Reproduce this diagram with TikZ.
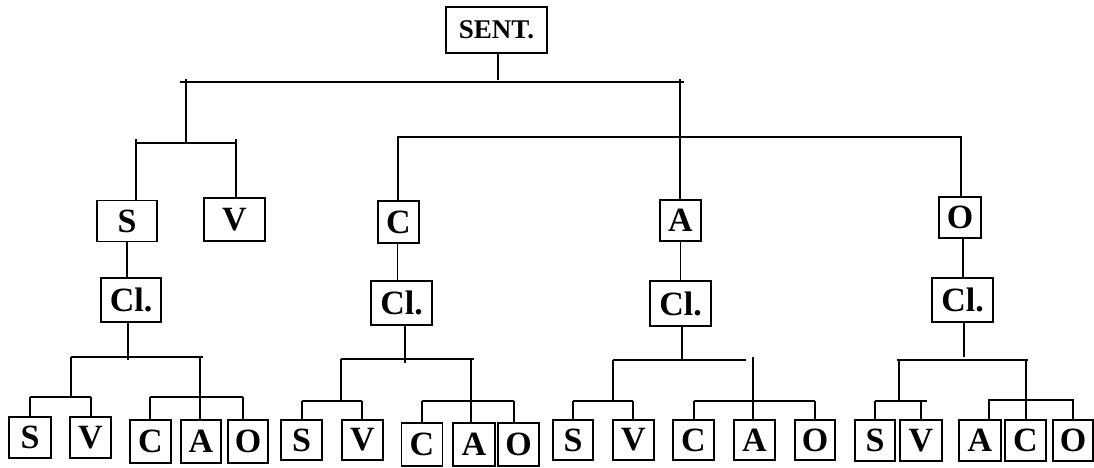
\documentclass[tikz,border=0pt]{standalone}
\usepackage{fontspec}
\setmainfont{Liberation Serif}
\tikzset{
  ln/.style={line width=1.9pt},
  bx/.style={draw, line width=1.8pt, inner sep=0pt, font=\fontsize{34}{34}\selectfont\bfseries},
}
\newcommand\bxnode[6]{\node[bx, minimum width=#4pt, minimum height=#5pt] (#1) at (#2,#3) {#6};}
\begin{document}
\begin{tikzpicture}[x=1pt,y=-1pt]
\useasboundingbox (0,0) rectangle (1094,468);
% top
\node[bx, minimum width=101pt, minimum height=46pt, font=\fontsize{27}{27}\selectfont\bfseries] (sent) at (496.5,30) {SENT.};
% level 1
\bxnode{S1}{127}{221}{60}{41}{S}
\bxnode{V1}{234.5}{219.5}{61}{43}{V}
\bxnode{C1}{398.5}{222}{41}{42}{C}
\bxnode{A1}{680.5}{220.5}{41}{41}{A}
\bxnode{O1}{960}{217.5}{42}{41}{O}
% clause boxes
\bxnode{ClS}{131}{300}{60}{44}{Cl.}
\bxnode{ClC}{401.5}{303}{61}{44}{Cl.}
\bxnode{ClA}{680.5}{303.5}{61}{45}{Cl.}
\bxnode{ClO}{962.5}{300}{61}{44}{Cl.}
% group 1 leaves
\bxnode{g1S}{30}{437.5}{42}{41}{S}
\bxnode{g1V}{90.5}{437.5}{41}{41}{V}
\bxnode{g1C}{150.5}{441.5}{41}{43}{C}
\bxnode{g1A}{201}{441.5}{40}{43}{A}
\bxnode{g1O}{248}{441.5}{40}{43}{O}
% group 2 leaves
\bxnode{g2S}{301.5}{440}{41}{40}{S}
\bxnode{g2V}{362.5}{440}{41}{40}{V}
\bxnode{g2C}{422}{444.5}{41}{43}{C}
\bxnode{g2A}{474}{444.5}{42}{43}{A}
\bxnode{g2O}{518.5}{444.5}{41}{43}{O}
% group 3 leaves
\bxnode{g3S}{573}{440}{40}{40}{S}
\bxnode{g3V}{633.5}{440}{41}{40}{V}
\bxnode{g3C}{693.5}{440}{41}{40}{C}
\bxnode{g3A}{754.5}{440}{41}{40}{A}
\bxnode{g3O}{815}{440}{40}{40}{O}
% group 4 leaves
\bxnode{g4S}{875}{440.5}{40}{41}{S}
\bxnode{g4V}{921}{440.5}{42}{41}{V}
\bxnode{g4A}{980}{440.5}{42}{41}{A}
\bxnode{g4C}{1025.5}{440.5}{41}{41}{C}
\bxnode{g4O}{1073}{440.5}{40}{41}{O}

% ---------- top connectors
\coordinate (tbL) at (180,82);
\coordinate (tbR) at (684,82);
\coordinate (j1) at (186,82);
\coordinate (j2) at (680,82);
\coordinate (st) at (498,80);
\draw[ln] (st |- sent.south) -- (st);
\draw[ln] (tbL) -- (tbR);
\coordinate (sv1L) at (136,143);
\coordinate (sv1R) at (237,143);
\draw[ln] ([yshift=3pt]j1) -- (j1 |- sv1L);
\draw[ln] (sv1L) -- (sv1R);
\draw[ln] ([yshift=4pt]sv1L) -- (sv1L |- S1.north);
\draw[ln] ([yshift=4pt,xshift=-1pt]sv1R) -- ([xshift=-1pt]sv1R |- V1.north);
\draw[ln] ([yshift=3pt]j2) -- (j2 |- A1.north);
\coordinate (cbL) at (397,137);
\coordinate (cbR) at (962,137);
\draw[ln] (cbL) -- (cbR);
\draw[ln] ([xshift=1pt]cbL) -- ([xshift=1pt]cbL |- C1.north);
\draw[ln] ([xshift=-1pt]cbR) -- ([xshift=-1pt]cbR |- O1.north);
% level 1 to clause
\draw[ln] (S1.south) -- (S1.south |- ClS.north);
\draw[ln] ([xshift=-1pt]C1.south) -- ([xshift=-1pt]C1.south |- ClC.north);
\draw[ln] (A1.south) -- (A1.south |- ClA.north);
\draw[ln] ([xshift=3pt]O1.south) -- ([xshift=3pt]O1.south |- ClO.north);

% ---------- group 1
\coordinate (g1m) at (128,357);
\coordinate (g1L) at (71,357);
\coordinate (g1R) at (203,357);
\coordinate (g1b) at (200,357);
\coordinate (g1svL) at (30,397);
\coordinate (g1svR) at (91,397);
\coordinate (g1cL) at (150,397);
\coordinate (g1cR) at (243,397);
\draw[ln] (g1m |- ClS.south) -- ([yshift=-3pt]g1m);
\draw[ln] (g1L) -- (g1R);
\draw[ln] (g1L) -- (g1L |- g1svL);
\draw[ln] (g1svL) -- (g1svR);
\draw[ln] (g1svL) -- (g1svL |- g1S.north);
\draw[ln] (g1svR) -- (g1svR |- g1V.north);
\draw[ln] (g1b) -- (g1b |- g1A.north);
\draw[ln] (g1cL) -- (g1cR);
\draw[ln] (g1cL) -- (g1cL |- g1C.north);
\draw[ln] (g1cR) -- (g1cR |- g1O.north);

% ---------- group 2
\coordinate (g2m) at (405,359);
\coordinate (g2L) at (341,359);
\coordinate (g2R) at (474,359);
\coordinate (g2b) at (471,359);
\coordinate (g2svL) at (302,401);
\coordinate (g2svR) at (362,401);
\coordinate (g2cL) at (422,401);
\coordinate (g2cR) at (514,401);
\draw[ln] (g2m |- ClC.south) -- ([yshift=-4pt]g2m);
\draw[ln] (g2L) -- (g2R);
\draw[ln] (g2L) -- (g2L |- g2svL);
\draw[ln] (g2svL) -- (g2svR);
\draw[ln] (g2svL) -- (g2svL |- g2S.north);
\draw[ln] (g2svR) -- (g2svR |- g2V.north);
\draw[ln] (g2b) -- (g2b |- g2A.north);
\draw[ln] (g2cL) -- (g2cR);
\draw[ln] (g2cL) -- (g2cL |- g2C.north);
\draw[ln] (g2cR) -- (g2cR |- g2O.north);

% ---------- group 3
\coordinate (g3m) at (682,360);
\coordinate (g3L) at (613,360);
\coordinate (g3R) at (746,360);
\coordinate (g3b) at (753,357);
\coordinate (g3svL) at (573,401);
\coordinate (g3svR) at (633,401);
\coordinate (g3cL) at (694,401);
\coordinate (g3cR) at (815,401);
\draw[ln] (g3m |- ClA.south) -- (g3m);
\draw[ln] (g3L) -- (g3R);
\draw[ln] (g3L) -- (g3L |- g3svL);
\draw[ln] (g3svL) -- (g3svR);
\draw[ln] (g3svL) -- (g3svL |- g3S.north);
\draw[ln] (g3svR) -- (g3svR |- g3V.north);
\draw[ln] (g3b) -- (g3b |- g3A.north);
\draw[ln] (g3cL) -- (g3cR);
\draw[ln] (g3cL) -- (g3cL |- g3C.north);
\draw[ln] (g3cR) -- (g3cR |- g3O.north);

% ---------- group 4
\coordinate (g4m) at (964,360);
\coordinate (g4L) at (897,360);
\coordinate (g4R) at (1028,360);
\coordinate (g4b) at (1026,360);
\coordinate (g4a) at (899,360);
\coordinate (g4svL) at (875,401);
\coordinate (g4svR) at (927,401);
\coordinate (g4sv) at (921,401);
\coordinate (g4cL) at (988,400);
\coordinate (g4cR) at (1074,400);
\draw[ln] (g4m |- ClO.south) -- ([yshift=3pt]g4m);
\draw[ln] (g4L) -- (g4R);
\draw[ln] (g4a) -- (g4a |- g4svL);
\draw[ln] (g4svL) -- (g4svR);
\draw[ln] (g4svL) -- (g4svL |- g4S.north);
\draw[ln] (g4sv) -- (g4sv |- g4V.north);
\draw[ln] (g4b) -- (g4b |- g4C.north);
\draw[ln] (g4cL) -- (g4cR);
\draw[ln] ([xshift=1pt]g4cL) -- ([xshift=1pt]g4cL |- g4A.north);
\draw[ln] ([xshift=-1pt]g4cR) -- ([xshift=-1pt]g4cR |- g4O.north);
\end{tikzpicture}
\end{document}
